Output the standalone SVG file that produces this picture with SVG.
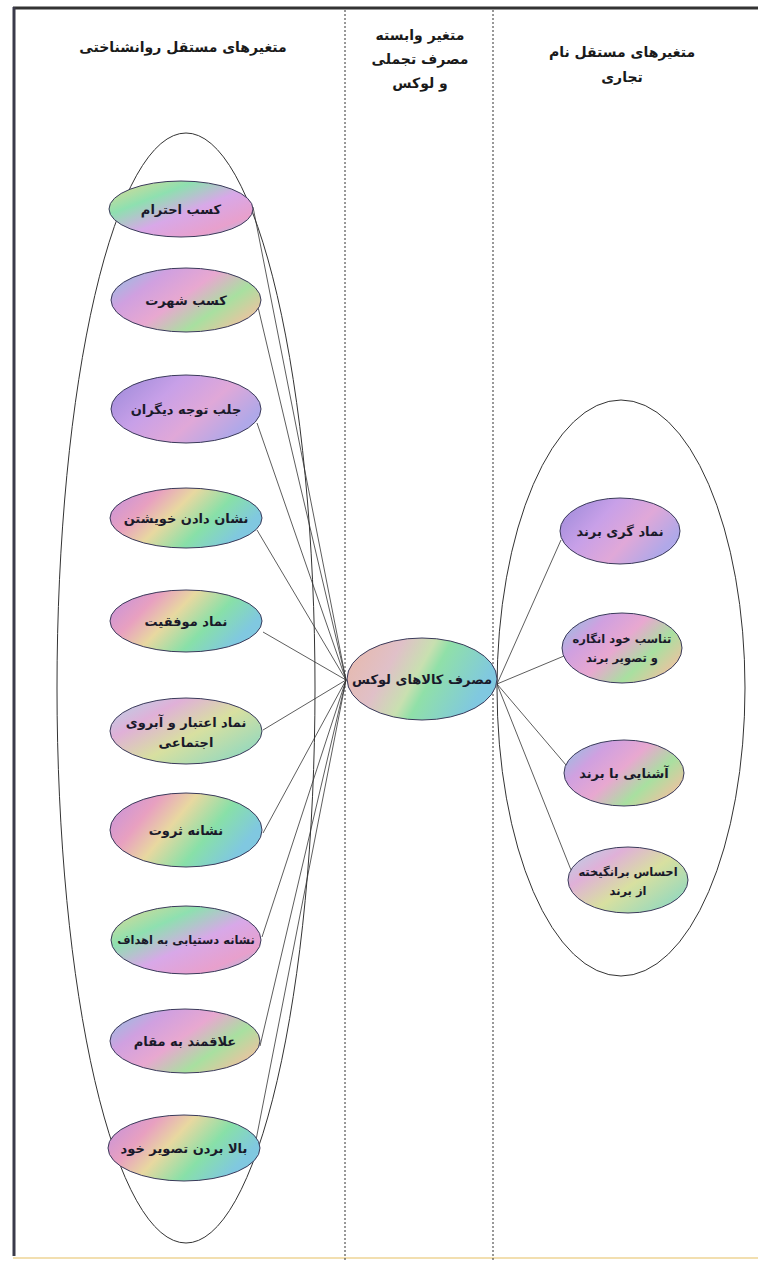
<svg xmlns="http://www.w3.org/2000/svg" width="758" height="1262" viewBox="0 0 758 1262">
<defs>
<linearGradient id="g1" x1="0" y1="0" x2="1" y2="1">
<stop offset="0" stop-color="#e8d890"/><stop offset="0.3" stop-color="#8ee0b0"/><stop offset="0.55" stop-color="#d8a8e8"/><stop offset="0.8" stop-color="#e8a0cc"/><stop offset="1" stop-color="#90c8e8"/>
</linearGradient>
<linearGradient id="g2" x1="0" y1="0" x2="1" y2="0.6">
<stop offset="0" stop-color="#88c8e0"/><stop offset="0.3" stop-color="#d0a0e0"/><stop offset="0.55" stop-color="#e8a8d0"/><stop offset="0.8" stop-color="#a8e0a0"/><stop offset="1" stop-color="#e0c8a0"/>
</linearGradient>
<linearGradient id="g3" x1="0" y1="0" x2="1" y2="0.4">
<stop offset="0" stop-color="#c090e0"/><stop offset="0.3" stop-color="#e8a0c0"/><stop offset="0.5" stop-color="#e8d8a0"/><stop offset="0.75" stop-color="#88e0a8"/><stop offset="1" stop-color="#80c8e0"/>
</linearGradient>
<linearGradient id="g4" x1="0" y1="0" x2="1" y2="0.8">
<stop offset="0" stop-color="#b0d8e8"/><stop offset="0.3" stop-color="#e0b0d8"/><stop offset="0.6" stop-color="#d8e0a0"/><stop offset="1" stop-color="#90d8c0"/>
</linearGradient>
<linearGradient id="g5" x1="0" y1="0" x2="1" y2="0.5">
<stop offset="0" stop-color="#9888d8"/><stop offset="0.4" stop-color="#c8a0e8"/><stop offset="0.7" stop-color="#e0a8d8"/><stop offset="1" stop-color="#b0a8e8"/>
</linearGradient>
<linearGradient id="gc" x1="0" y1="0" x2="1" y2="0.3">
<stop offset="0" stop-color="#e8b8a8"/><stop offset="0.35" stop-color="#e0c0c8"/><stop offset="0.55" stop-color="#c8e0b0"/><stop offset="0.65" stop-color="#90e0a8"/><stop offset="1" stop-color="#80c8e0"/>
</linearGradient>
</defs>
<style>
.node ellipse{stroke:#3a3a5a;stroke-width:1}
.t{font-family:"DejaVu Sans",sans-serif;font-weight:bold;font-size:13px;fill:#1a1a2a;text-anchor:middle}
.s{font-size:11.5px}
.h{font-family:"DejaVu Sans",sans-serif;font-weight:bold;font-size:14px;fill:#1a1a1a;text-anchor:middle}
.big{fill:none;stroke:#333;stroke-width:1}
.dash{stroke:#333;stroke-width:1;stroke-dasharray:2 2}
.conn line{stroke:#333;stroke-width:0.8}
</style>
<rect width="758" height="1262" fill="#ffffff"/>
<g id="frame">
<line x1="13" y1="8" x2="758" y2="8" stroke="#333" stroke-width="3"/>
<line x1="14" y1="7" x2="14" y2="1256" stroke="#3a3a4a" stroke-width="3"/>
<line x1="13" y1="1258" x2="758" y2="1258" stroke="#f2dfb0" stroke-width="2"/>
<line class="dash" x1="345" y1="10" x2="345" y2="1262"/>
<line class="dash" x1="493" y1="10" x2="493" y2="1262"/>
</g>
<g id="headers">
<text class="h" x="183" y="52">متغیرهای  مستقل روانشناختی</text>
<text class="h" x="420" y="40">متغیر وابسته</text>
<text class="h" x="420" y="64">مصرف تجملی</text>
<text class="h" x="420" y="88">و لوکس</text>
<text class="h" x="622" y="57">متغیرهای  مستقل نام</text>
<text class="h" x="622" y="82">تجاری</text>
</g>
<g id="groups">
<ellipse class="big" cx="186" cy="688" rx="129" ry="555"/>
<ellipse class="big" cx="621" cy="688" rx="124" ry="288"/>
</g>
<g id="connectors" class="conn">
<line x1="253" y1="207" x2="346" y2="680"/>
<line x1="258" y1="307" x2="346" y2="680"/>
<line x1="257" y1="423" x2="346" y2="680"/>
<line x1="257" y1="530" x2="346" y2="680"/>
<line x1="263" y1="632" x2="346" y2="680"/>
<line x1="263" y1="730" x2="346" y2="680"/>
<line x1="263" y1="833" x2="346" y2="680"/>
<line x1="262" y1="937" x2="346" y2="680"/>
<line x1="260" y1="1046" x2="346" y2="680"/>
<line x1="256" y1="1140" x2="346" y2="680"/>
<line x1="497" y1="684" x2="561" y2="540"/>
<line x1="497" y1="684" x2="564" y2="656"/>
<line x1="497" y1="684" x2="566" y2="765"/>
<line x1="497" y1="684" x2="571" y2="870"/>
</g>
<g id="n1" class="node"><ellipse cx="181" cy="209" rx="72" ry="28" fill="url(#g1)"/><text class="t" x="181" y="214">کسب احترام</text></g>
<g id="n2" class="node"><ellipse cx="186" cy="300" rx="75" ry="32" fill="url(#g2)"/><text class="t" x="186" y="305">کسب شهرت</text></g>
<g id="n3" class="node"><ellipse cx="186" cy="409" rx="75" ry="34" fill="url(#g5)"/><text class="t" x="186" y="414">جلب توجه دیگران</text></g>
<g id="n4" class="node"><ellipse cx="186" cy="518" rx="76" ry="30" fill="url(#g3)"/><text class="t" x="186" y="523">نشان دادن خویشتن</text></g>
<g id="n5" class="node"><ellipse cx="186" cy="621" rx="76" ry="31" fill="url(#g3)"/><text class="t" x="186" y="626">نماد موفقیت</text></g>
<g id="n6" class="node"><ellipse cx="186" cy="731" rx="76" ry="33" fill="url(#g4)"/><text class="t" x="186" y="727">نماد اعتبار و آبروی</text><text class="t" x="186" y="747">اجتماعی</text></g>
<g id="n7" class="node"><ellipse cx="186" cy="830" rx="76" ry="37" fill="url(#g3)"/><text class="t" x="186" y="835">نشانه ثروت</text></g>
<g id="n8" class="node"><ellipse cx="186" cy="940" rx="75" ry="34" fill="url(#g1)"/><text class="t s" x="186" y="944">نشانه دستیابی به اهداف</text></g>
<g id="n9" class="node"><ellipse cx="185" cy="1041" rx="75" ry="32" fill="url(#g2)"/><text class="t" x="185" y="1046">علاقمند به مقام</text></g>
<g id="n10" class="node"><ellipse cx="184" cy="1148" rx="76" ry="33" fill="url(#g3)"/><text class="t" x="184" y="1153">بالا بردن تصویر خود</text></g>
<g id="center" class="node"><ellipse cx="422" cy="679" rx="75" ry="41" fill="url(#gc)"/><text class="t" x="422" y="684">مصرف کالاهای لوکس</text></g>
<g id="r1" class="node"><ellipse cx="620" cy="531" rx="60" ry="33" fill="url(#g5)"/><text class="t" x="620" y="536">نماد گری برند</text></g>
<g id="r2" class="node"><ellipse cx="622" cy="648" rx="60" ry="35" fill="url(#g2)"/><text class="t s" x="622" y="643">تناسب خود انگاره</text><text class="t s" x="622" y="662">و تصویر برند</text></g>
<g id="r3" class="node"><ellipse cx="624" cy="773" rx="60" ry="33" fill="url(#g2)"/><text class="t" x="624" y="778">آشنایی با برند</text></g>
<g id="r4" class="node"><ellipse cx="628" cy="880" rx="60" ry="33" fill="url(#g4)"/><text class="t s" x="628" y="876">احساس برانگیخته</text><text class="t s" x="628" y="895">از برند</text></g>
</svg>
